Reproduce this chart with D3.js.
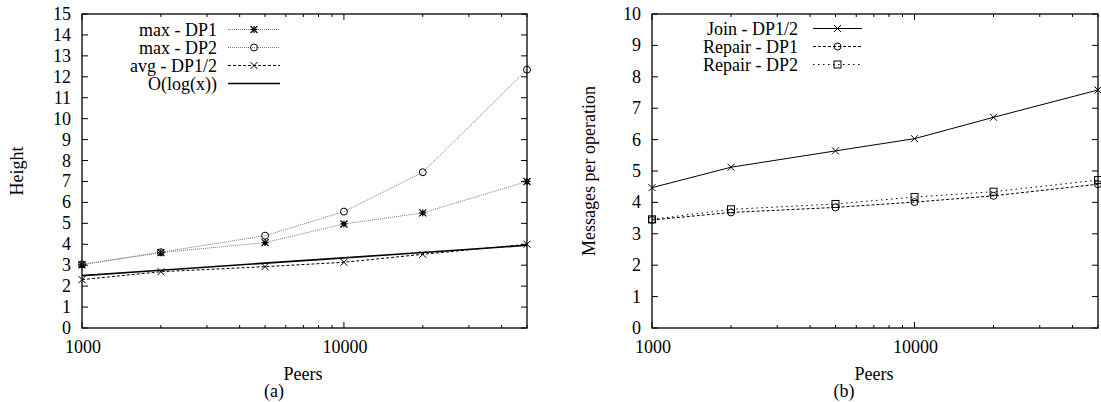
<!DOCTYPE html>
<html>
<head>
<meta charset="utf-8">
<script src="https://cdn.jsdelivr.net/npm/d3@7"></script>
<style>
  body { margin: 0; background: #fff; }
  svg { display: block; }
  text { font-family: 'Liberation Serif', 'Times New Roman', Times, 'DejaVu Serif', serif; }
</style>
</head>
<body>
<svg id="chart" width="1101" height="402"></svg>
<script>
// peers (x values, both panels)
const peers = [1000, 2000, 5000, 10000, 20000, 50000];

// panel (a) - Height
const maxDP1 = [3.02, 3.6, 4.08, 4.97, 5.5, 7.0];
const maxDP2 = [3.04, 3.62, 4.41, 5.56, 7.44, 12.34];
const avgDP12 = [2.31, 2.69, 2.93, 3.14, 3.52, 4.0];
const ologx = [2.5, 2.76, 3.1, 3.35, 3.61, 3.95];

// panel (b) - messages per operation
const joinDP12 = [4.47, 5.12, 5.64, 6.03, 6.71, 7.58];
const repairDP1 = [3.44, 3.68, 3.84, 4.01, 4.21, 4.58];
const repairDP2 = [3.46, 3.78, 3.95, 4.17, 4.34, 4.71];

const yTicksA = d3.range(0, 16);
const yTicksB = d3.range(0, 11);
const xMajor = [1000, 10000];
const xMinor = [2000, 3000, 4000, 5000, 6000, 7000, 8000, 9000, 20000, 30000, 40000, 50000];

const svg = d3.select("#chart");
const FONT = "'Liberation Serif', 'Times New Roman', Times, 'DejaVu Serif', serif";
const FS = 18;

function drawMarker(g, type, x, y) {
  const s = 3.5;
  if (type === "circle") {
    g.append("circle").attr("cx", x).attr("cy", y).attr("r", s)
      .attr("fill", "none").attr("stroke", "#000").attr("stroke-width", 1);
  } else if (type === "square") {
    g.append("rect").attr("x", x - s).attr("y", y - s).attr("width", 2 * s).attr("height", 2 * s)
      .attr("fill", "none").attr("stroke", "#000").attr("stroke-width", 1);
  } else if (type === "cross") {
    g.append("path").attr("d", `M${x - s},${y - s}L${x + s},${y + s}M${x - s},${y + s}L${x + s},${y - s}`)
      .attr("stroke", "#000").attr("stroke-width", 1);
  } else if (type === "star") {
    g.append("path").attr("d", `M${x - s},${y - s}L${x + s},${y + s}M${x - s},${y + s}L${x + s},${y - s}M${x - s},${y}L${x + s},${y}M${x},${y - s}L${x},${y + s}`)
      .attr("stroke", "#000").attr("stroke-width", 1.2);
  }
}

function label(g, x, y, txt, anchor) {
  return g.append("text").attr("x", x).attr("y", y)
    .attr("text-anchor", anchor).attr("font-family", FONT).attr("font-size", FS).text(txt);
}

function panel(opt) {
  const x = d3.scaleLog().domain([1000, 50000]).range([opt.left, opt.right]);
  const y = d3.scaleLinear().domain([0, opt.ymax]).range([opt.bottom, opt.top]);
  const g = svg.append("g");

  // ticks (all four sides, inward)
  const t = g.append("g").attr("stroke", "#000").attr("stroke-width", 1);
  opt.yTicks.forEach(v => {
    t.append("line").attr("x1", opt.left).attr("x2", opt.left + 6).attr("y1", y(v)).attr("y2", y(v));
    t.append("line").attr("x1", opt.right).attr("x2", opt.right - 6).attr("y1", y(v)).attr("y2", y(v));
  });
  xMajor.concat(xMinor).forEach(v => {
    const len = xMajor.includes(v) ? 6 : 3;
    t.append("line").attr("x1", x(v)).attr("x2", x(v)).attr("y1", opt.bottom).attr("y2", opt.bottom - len);
    t.append("line").attr("x1", x(v)).attr("x2", x(v)).attr("y1", opt.top).attr("y2", opt.top + len);
  });

  // tick labels
  opt.yTicks.forEach(v => label(g, opt.left - 11, y(v) + 6, v, "end"));
  xMajor.forEach(v => label(g, x(v) + 1, opt.bottom + 25, v, "middle"));

  // axis labels
  label(g, opt.peersX, 380, "Peers", "middle");
  label(g, opt.subX, 397, opt.sub, "middle");
  label(g, 0, 0, opt.ylabel, "middle")
    .attr("transform", `translate(${opt.ylabX},${(opt.top + opt.bottom) / 2}) rotate(-90)`);

  // series
  const line = d3.line().x((d, i) => x(peers[i])).y(d => y(d));
  opt.series.forEach((s, k) => {
    g.append("path").datum(s.values).attr("d", line)
      .attr("fill", "none").attr("stroke", s.color).attr("stroke-width", s.width)
      .attr("stroke-dasharray", s.dash);
    if (s.marker) s.values.forEach((v, i) => drawMarker(g, s.marker, x(peers[i]), y(v)));

    // legend
    const ly = opt.legendY + k * 18;
    label(g, opt.legTextX, ly + 6, s.name, "end");
    g.append("line").attr("x1", opt.legX1).attr("x2", opt.legX2).attr("y1", ly).attr("y2", ly)
      .attr("stroke", s.color).attr("stroke-width", s.width).attr("stroke-dasharray", s.dash);
    if (s.marker) drawMarker(g, s.marker, (opt.legX1 + opt.legX2) / 2, ly);
  });

  // frame
  g.append("rect").attr("x", opt.left).attr("y", opt.top)
    .attr("width", opt.right - opt.left).attr("height", opt.bottom - opt.top)
    .attr("fill", "none").attr("stroke", "#000").attr("stroke-width", 1.3);
}

panel({
  left: 82, right: 527, top: 14, bottom: 328, ymax: 15, yTicks: yTicksA,
  ylabel: "Height", ylabX: 23, peersX: 303, sub: "(a)", subX: 274,
  legendY: 29.5, legTextX: 217, legX1: 228, legX2: 280,
  series: [
    { name: "max - DP1", values: maxDP1, marker: "star", color: "#777", width: 1, dash: "1,1" },
    { name: "max - DP2", values: maxDP2, marker: "circle", color: "#777", width: 1, dash: "1,1" },
    { name: "avg - DP1/2", values: avgDP12, marker: "cross", color: "#000", width: 1, dash: "3,2" },
    { name: "O(log(x))", values: ologx, marker: null, color: "#000", width: 1.6, dash: null }
  ]
});

panel({
  left: 652, right: 1098, top: 14, bottom: 328, ymax: 10, yTicks: yTicksB,
  ylabel: "Messages per operation", ylabX: 595, peersX: 874, sub: "(b)", subX: 844,
  legendY: 28.5, legTextX: 798, legX1: 813, legX2: 862,
  series: [
    { name: "Join - DP1/2", values: joinDP12, marker: "cross", color: "#000", width: 1, dash: null },
    { name: "Repair - DP1", values: repairDP1, marker: "circle", color: "#000", width: 1, dash: "3,2" },
    { name: "Repair - DP2", values: repairDP2, marker: "square", color: "#000", width: 1, dash: "1.5,3.5" }
  ]
});
</script>
</body>
</html>
